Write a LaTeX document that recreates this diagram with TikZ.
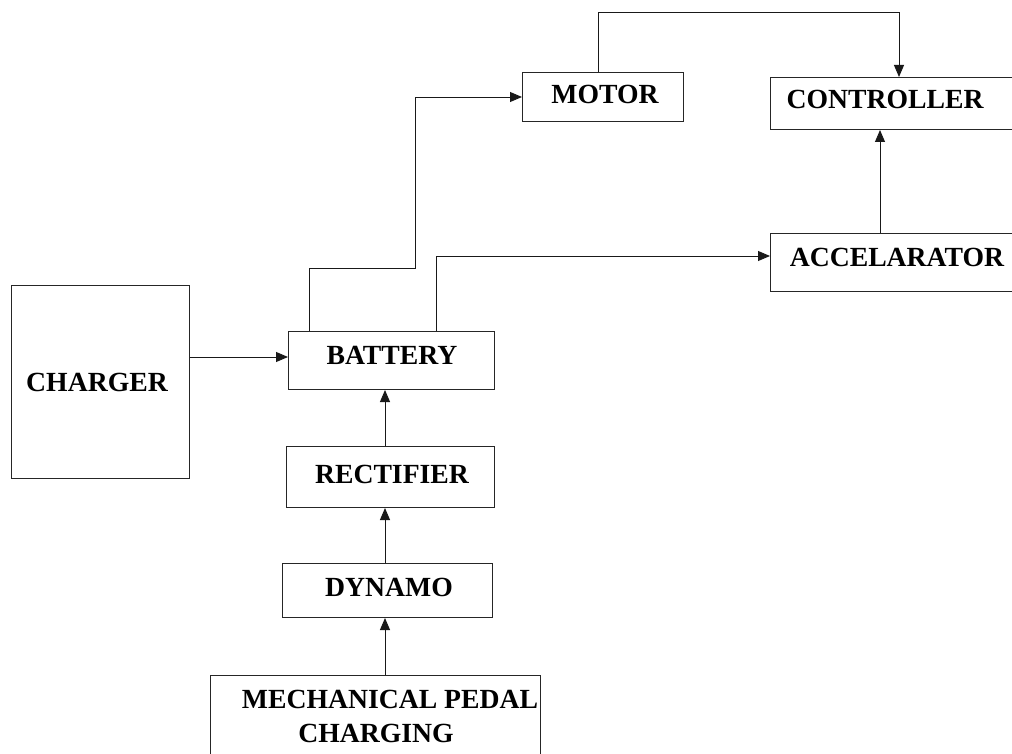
\documentclass[tikz,border=0pt]{standalone}
\usepackage{fontspec}
\setmainfont{Liberation Serif}
\usetikzlibrary{arrows.meta}
\begin{document}
\begin{tikzpicture}[x=1pt,y=-1pt,
  box/.style={draw=black!85, line width=1pt, inner sep=0pt, anchor=north west},
  txt/.style={inner sep=0pt, anchor=base, font=\fontsize{27.7}{31}\selectfont\bfseries},
  arr/.style={draw=black!90, line width=0.9pt, -{Triangle[length=12pt,width=10pt]}},
  ln/.style={draw=black!85, line width=1pt}]
\useasboundingbox (0,0) rectangle (1012,754);
% boxes
\node[box, minimum width=161pt, minimum height=49pt] (motor) at (522,72) {};
\node[box, minimum width=250pt, minimum height=52pt] (ctrl) at (770,77) {};
\node[box, minimum width=250pt, minimum height=58pt] (accel) at (770,233) {};
\node[box, minimum width=206pt, minimum height=58pt] (battery) at (288,331) {};
\node[box, minimum width=178pt, minimum height=193pt] (charger) at (11,285) {};
\node[box, minimum width=208pt, minimum height=61pt] (rect) at (286,446) {};
\node[box, minimum width=210pt, minimum height=54pt] (dynamo) at (282,563) {};
\node[box, minimum width=330pt, minimum height=90pt] (mech) at (210,675) {};
% texts
\node[txt] (tmotor) at (605,104) {MOTOR};
\node[txt] (tctrl) at (885,109) {CONTROLLER};
\node[txt] (taccel) at (897,266) {ACCELARATOR};
\node[txt] (tbatt) at (392,364) {BATTERY};
\node[txt] (tcharger) at (97,391) {CHARGER};
\node[txt] (trect) at (392,483) {RECTIFIER};
\node[txt] (tdyn) at (389,596) {DYNAMO};
\node[txt] (tmech1) at (390,708) {MECHANICAL PEDAL};
\node[txt] (tmech2) at (376,742) {CHARGING};
% helper coordinates
\coordinate (t1) at (598,12);
\coordinate (t2) at (899,12);
\coordinate (b1) at (309,268);
\coordinate (b2) at (415,268);
\coordinate (c1) at (436,256);
\coordinate (v) at (385,0);
\coordinate (a1) at (880,0);
\coordinate (h1) at (0,357);
% connectors
\draw[arr] (t1 |- motor.north) -- (t1) -- (t2) -- (t2 |- ctrl.north);
\draw[arr] (a1 |- accel.north) -- (a1 |- ctrl.south);
\draw[arr] (b1 |- battery.north) -- (b1) -- (b2) |- (motor.west);
\draw[arr] (c1 |- battery.north) -- (c1) -- (c1 -| accel.west);
\draw[arr] (charger.east |- h1) -- (battery.west |- h1);
\draw[arr] (v |- rect.north) -- (v |- battery.south);
\draw[arr] (v |- dynamo.north) -- (v |- rect.south);
\draw[arr] (v |- mech.north) -- (v |- dynamo.south);
\end{tikzpicture}
\end{document}
